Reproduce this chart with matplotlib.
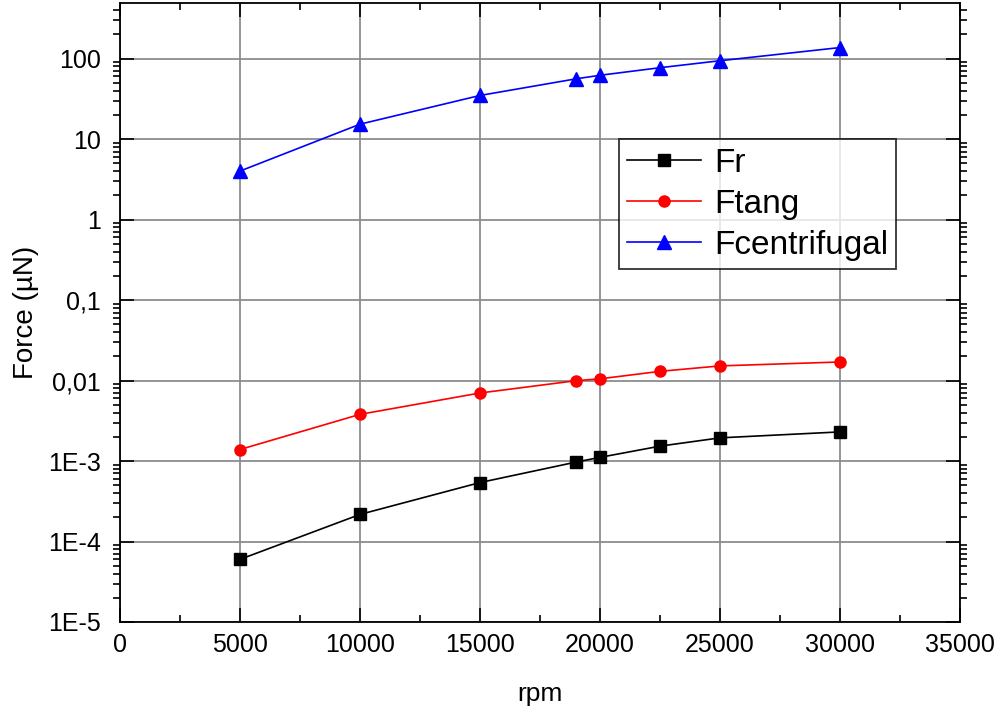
import numpy as np
import matplotlib
matplotlib.use("Agg")
import matplotlib.pyplot as plt
from matplotlib.ticker import FixedLocator, LogLocator, MultipleLocator, NullFormatter

plt.rcParams['font.family'] = ['Liberation Sans', 'DejaVu Sans']

rpm = [5000, 10000, 15000, 19000, 20000, 22500, 25000, 30000]
fr = [6.0e-5, 2.17e-4, 5.4e-4, 9.7e-4, 1.11e-3, 1.53e-3, 1.94e-3, 2.3e-3]
ftang = [1.39e-3, 3.8e-3, 7.0e-3, 9.95e-3, 1.05e-2, 1.3e-2, 1.52e-2, 1.7e-2]
fcentrifugal = [4.0, 15.3, 34.8, 56.0, 62.0, 77.0, 94.0, 137.0]

ytick_vals = [1e-5, 1e-4, 1e-3, 1e-2, 1e-1, 1, 10, 100]
ytick_labels = ['1E-5', '1E-4', '1E-3', '0,01', '0,1', '1', '10', '100']

fig = plt.figure(figsize=(10.05, 7.17), dpi=100)
ax = fig.add_axes([0.1194, 0.1325, 0.8358, 0.8633])

ax.plot(rpm, fr, '-s', color='black', lw=1.2, ms=8, label='Fr')
ax.plot(rpm, ftang, '-o', color='red', lw=1.2, ms=8, label='Ftang')
ax.plot(rpm, fcentrifugal, '-^', color='blue', lw=1.2, ms=10, label='Fcentrifugal')

ax.set_yscale('log')
ax.set_xlim(0, 35000)
ax.set_ylim(1e-5, 490)

ax.xaxis.set_major_locator(MultipleLocator(5000))
ax.xaxis.set_minor_locator(MultipleLocator(2500))
ax.yaxis.set_major_locator(FixedLocator(ytick_vals))
ax.set_yticklabels(ytick_labels)
ax.yaxis.set_minor_locator(LogLocator(base=10, subs=np.arange(2, 10), numticks=20))
ax.yaxis.set_minor_formatter(NullFormatter())

ax.grid(True, which='major', color='#8c8c8c', lw=1.3)
ax.set_axisbelow(True)

ax.tick_params(axis='both', which='major', direction='in', length=10, width=1.2,
               top=True, right=True, labelsize=18, pad=8)
ax.tick_params(axis='both', which='minor', direction='in', length=5, width=1.2,
               top=True, right=True)
ax.tick_params(axis='y', which='minor', direction='out', left=True)
ax.tick_params(axis='y', which='major', pad=14)
for s in ax.spines.values():
    s.set_linewidth(1.3)

ax.set_xlabel('rpm', fontsize=19, labelpad=18)
ax.set_ylabel('Force (µN)', fontsize=20, labelpad=6)

leg = ax.legend(loc='upper left', bbox_to_anchor=(0.594, 0.78), fontsize=24,
                frameon=True, fancybox=False, edgecolor='black',
                handlelength=2.2, borderpad=0.25, labelspacing=0.3,
                handletextpad=0.4, borderaxespad=0)
leg.get_frame().set_linewidth(1.3)

fig.savefig('out.png', dpi=100)
